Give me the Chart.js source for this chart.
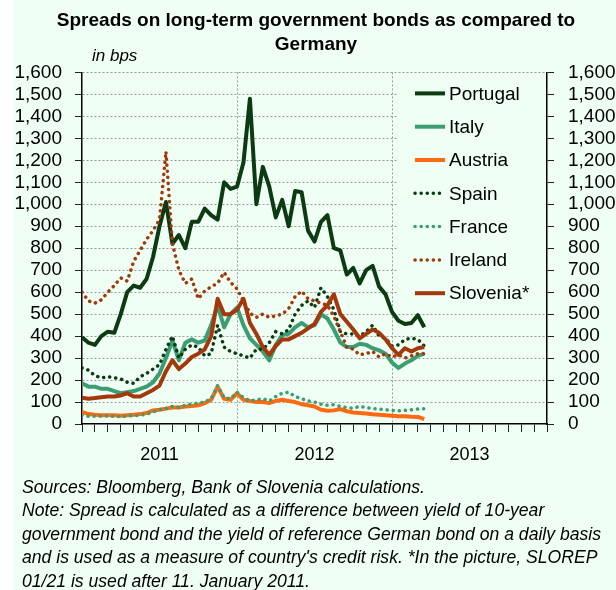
<!DOCTYPE html>
<html>
<head>
<meta charset="utf-8">
<script src="https://cdn.jsdelivr.net/npm/chart.js@4.4.1/dist/chart.umd.min.js"></script>
<style>
  body { margin: 0; background: #fff; }
</style>
</head>
<body>
<canvas id="spreads" width="616" height="590"></canvas>
<script>
// months since 1 Jan 2011, half-month steps
var months = [0, 0.5, 1, 1.5, 2, 2.5, 3, 3.5, 4, 4.5, 5, 5.5,
  6, 6.5, 7, 7.5, 8, 8.5, 9, 9.5, 10, 10.5, 11, 11.5,
  12, 12.5, 13, 13.5, 14, 14.5, 15, 15.5, 16, 16.5, 17, 17.5,
  18, 18.5, 19, 19.5, 20, 20.5, 21, 21.5, 22, 22.5, 23, 23.5,
  24, 24.5, 25, 25.5, 26, 26.5];

var portugal = [395, 370, 360, 400, 420, 415, 500, 600, 630, 620, 660, 760,
  900, 1010, 820, 860, 800, 920, 920, 980, 950, 930, 1100, 1070,
  1080, 1190, 1480, 1000, 1170, 1080, 940, 1020, 900, 1060, 1055, 880,
  830, 920, 950, 800, 790, 680, 710, 640, 700, 720, 625, 590,
  510, 470, 455, 460, 495, 440];
var italy = [185, 170, 170, 160, 160, 150, 140, 145, 150, 160, 170, 190,
  230, 300, 380, 290, 370, 385, 370, 380, 450, 540, 440, 500,
  530, 450, 390, 360, 330, 290, 360, 405, 410, 440, 460, 440,
  450, 500, 480, 430, 370, 350, 350, 365, 360, 345, 335, 320,
  280, 255, 275, 290, 310, 320];
var austria = [55, 45, 42, 40, 40, 40, 38, 40, 42, 45, 50, 62,
  65, 70, 75, 75, 80, 82, 85, 95, 110, 170, 115, 110,
  140, 110, 105, 100, 100, 95, 105, 110, 105, 100, 90, 85,
  80, 65, 60, 62, 68, 58, 52, 50, 48, 44, 42, 40,
  38, 35, 35, 33, 32, 22];
var spain = [255, 245, 220, 210, 215, 210, 205, 190, 185, 215, 230, 250,
  270, 340, 400, 300, 340, 360, 350, 310, 320, 450, 350, 330,
  320, 310, 300, 340, 340, 370, 420, 410, 430, 500, 540, 560,
  530, 620, 580, 520, 420, 410, 410, 400, 420, 450, 400, 390,
  355, 360, 385, 390, 385, 355];
var france = [40, 35, 35, 36, 36, 35, 34, 36, 38, 40, 45, 55,
  65, 70, 80, 75, 85, 90, 95, 100, 115, 175, 120, 115,
  145, 120, 105, 110, 115, 105, 125, 140, 145, 125, 115, 105,
  100, 90, 85, 88, 80, 75, 72, 80, 75, 70, 68, 65,
  62, 60, 62, 65, 68, 70];
var ireland = [600, 560, 550, 565, 600, 630, 665, 650, 740, 790, 840, 880,
  930, 1240, 820, 700, 640, 660, 570, 605, 625, 640, 690, 645,
  615, 560, 505, 485, 500, 485, 492, 500, 525, 580, 605, 570,
  560, 550, 540, 490, 420, 350, 340, 315, 320, 330, 305, 320,
  305, 315, 300, 310, 320, 320];
var slovenia = [120, 115, 118, 122, 125, 125, 130, 140, 125, 125, 140, 155,
  175, 240, 290, 250, 275, 305, 320, 340, 400, 570, 500, 500,
  520, 570, 460, 410, 350, 315, 355, 385, 385, 400, 415, 435,
  455, 510, 540, 590, 500, 465, 430, 390, 410, 430, 415, 385,
  345, 315, 345, 330, 345, 350];

var yearLabels = { 6: '2011', 18: '2012', 30: '2013' };
var titleLines = ['Spreads on long-term government bonds as compared to', 'Germany'];
var notes = [
  'Sources: Bloomberg, Bank of Slovenia calculations.',
  'Note: Spread is calculated as a difference between yield of 10-year',
  'government bond and the yield of reference German bond on a daily basis',
  "and is used as a measure of country's credit risk. *In the picture, SLOREP",
  '01/21 is used after 11. January 2011.'
];

var FONT = "'Liberation Sans', Arial, sans-serif";
var MINT = '#f0fff4';
var DARK = '#0c3a12';
var GREEN = '#3a9e72';
var RUST = '#a3380c';

function pts(values) {
  return values.map(function (v, i) { return { x: months[i], y: v }; });
}

function solid(label, values, color) {
  return { label: label, data: pts(values), borderColor: color, borderWidth: 4,
    borderJoinStyle: 'round', pointRadius: 0, tension: 0 };
}
function dotted(label, values, color) {
  return { label: label, data: pts(values), borderColor: color, borderWidth: 3.5,
    borderDash: [0.1, 6], borderCapStyle: 'round', pointRadius: 0, tension: 0 };
}

var datasets = [
  solid('Portugal', portugal, DARK),
  solid('Italy', italy, GREEN),
  solid('Austria', austria, '#ff6a10'),
  dotted('Spain', spain, DARK),
  dotted('France', france, GREEN),
  dotted('Ireland', ireland, RUST),
  solid('Slovenia*', slovenia, RUST)
];
// later series sit on top, like the original
datasets.forEach(function (d, i) { d.order = -i; });

var background = {
  id: 'background',
  beforeDraw: function (chart) {
    var c = chart.ctx;
    c.save();
    c.fillStyle = '#ffffff';
    c.fillRect(0, 0, chart.width, chart.height);
    c.fillStyle = MINT;
    c.fillRect(13, 0, chart.width - 13, chart.height);
    c.restore();
  }
};

// legend boxed inside the plot, upper right
var insideLegend = {
  id: 'insideLegend',
  afterDatasetsDraw: function (chart) {
    var c = chart.ctx, a = chart.chartArea;
    c.save();
    c.fillStyle = MINT;
    c.fillRect(a.right - 149, a.top + 3, 148, 232);
    c.font = '19px ' + FONT;
    c.textBaseline = 'middle';
    c.fillStyle = '#000';
    chart.data.datasets.forEach(function (d, i) {
      var y = a.top + 21 + i * 33.3;
      c.beginPath();
      c.strokeStyle = d.borderColor;
      c.lineWidth = d.borderWidth;
      c.lineCap = d.borderCapStyle || 'butt';
      c.setLineDash(d.borderDash || []);
      c.moveTo(a.right - 132, y);
      c.lineTo(a.right - 102, y);
      c.stroke();
      c.fillText(d.label, a.right - 98, y + 1);
    });
    c.restore();
  }
};

var notesText = {
  id: 'notesText',
  afterDraw: function (chart) {
    var c = chart.ctx, a = chart.chartArea;
    c.save();
    c.fillStyle = '#000';
    c.textBaseline = 'middle';
    c.font = 'italic 17px ' + FONT;
    c.fillText('in bps', a.left + 10, a.top - 16);
    c.font = 'italic 17.6px ' + FONT;
    notes.forEach(function (line, i) {
      c.fillText(line, 22, 488 + i * 23.5);
    });
    c.restore();
  }
};

var tickFont = { family: FONT, size: 19 };

new Chart(document.getElementById('spreads').getContext('2d'), {
  type: 'line',
  data: { datasets: datasets },
  options: {
    responsive: false,
    animation: false,
    devicePixelRatio: 1,
    layout: { padding: { left: 16, right: 0, top: 0, bottom: 116 } },
    plugins: {
      legend: { display: false },
      tooltip: { enabled: false },
      title: {
        display: true,
        text: titleLines,
        color: '#000',
        font: { family: FONT, size: 19, weight: 'bold', lineHeight: 1.3 },
        padding: { top: 8, bottom: 15 }
      }
    },
    scales: {
      x: {
        type: 'linear',
        min: 0,
        max: 36,
        ticks: {
          stepSize: 1,
          autoSkip: false,
          maxRotation: 0,
          minRotation: 0,
          padding: 12,
          color: '#000',
          font: { family: FONT, size: 18 },
          callback: function (v) { return yearLabels[v] || ''; }
        },
        grid: {
          color: function (ctx) {
            var v = ctx.tick && ctx.tick.value;
            return (v === 12 || v === 24) ? '#9a9a9a' : 'rgba(0,0,0,0)';
          },
          tickColor: '#222',
          tickLength: 8,
          tickWidth: 1,
          tickBorderDash: []
        },
        border: { color: '#000', width: 1.5, dash: [2, 2] },
        afterFit: function (s) { s.height = 50; }
      },
      y: {
        position: 'left',
        min: 0,
        max: 1600,
        ticks: {
          stepSize: 100,
          autoSkip: false,
          padding: 13,
          color: '#000',
          font: tickFont,
          callback: function (v) { return v.toLocaleString('en-US'); }
        },
        grid: {
          color: function (ctx) {
            return ctx.tick && ctx.tick.value === 0 ? 'rgba(0,0,0,0)' : '#9a9a9a';
          },
          tickColor: '#222',
          tickLength: 7,
          tickWidth: 1,
          tickBorderDash: []
        },
        border: { color: '#000', width: 1.5, dash: [2, 2] },
        afterFit: function (s) { s.width = 66; }
      },
      y2: {
        position: 'right',
        min: 0,
        max: 1600,
        ticks: {
          stepSize: 100,
          autoSkip: false,
          padding: 14,
          color: '#000',
          font: tickFont,
          callback: function (v) { return v.toLocaleString('en-US'); }
        },
        grid: { drawOnChartArea: false, tickColor: '#222', tickLength: 7, tickWidth: 1 },
        border: { color: '#000', width: 1.5 },
        afterFit: function (s) { s.width = 69; }
      }
    }
  },
  plugins: [background, insideLegend, notesText]
});
</script>
</body>
</html>
